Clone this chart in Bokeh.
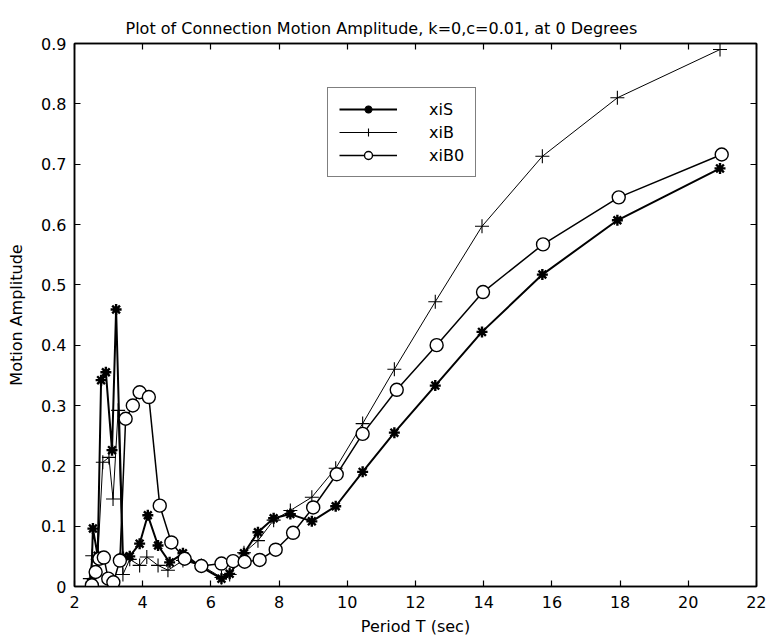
from bokeh.plotting import figure
from bokeh.models import (FixedTicker, LinearAxis, Legend, LegendItem,
                          CustomJSTickFormatter, Range1d)
from bokeh.embed import file_html
from bokeh.resources import INLINE

# ---- data ----
xiS_T = [2.49, 2.54, 2.68, 2.78, 2.92, 3.10, 3.22, 3.42, 3.62, 3.91, 4.15, 4.45,
         4.79, 5.18, 5.72, 6.31, 6.55, 6.97, 7.38, 7.84, 8.33, 8.96, 9.66, 10.45,
         11.38, 12.58, 13.95, 15.72, 17.92, 20.93]
xiS_A = [0.007, 0.096, 0.051, 0.342, 0.355, 0.226, 0.459, 0.049, 0.050, 0.071,
         0.118, 0.068, 0.040, 0.055, 0.032, 0.013, 0.021, 0.055, 0.090, 0.113,
         0.120, 0.108, 0.133, 0.190, 0.255, 0.333, 0.422, 0.517, 0.607, 0.693]

xiB_T = [2.45, 2.52, 2.68, 2.83, 3.01, 3.13, 3.28, 3.42, 3.62, 3.91, 4.12, 4.45,
         4.74, 5.18, 5.72, 6.31, 6.55, 6.97, 7.38, 7.84, 8.33, 8.96, 9.66, 10.45,
         11.38, 12.58, 13.95, 15.72, 17.92, 20.93]
xiB_A = [0.013, 0.051, 0.045, 0.206, 0.214, 0.145, 0.292, 0.020, 0.045, 0.035,
         0.049, 0.035, 0.027, 0.043, 0.035, 0.015, 0.020, 0.056, 0.076, 0.110,
         0.126, 0.148, 0.196, 0.270, 0.360, 0.472, 0.597, 0.713, 0.810, 0.890]

xiB0_T = [2.51, 2.62, 2.73, 2.86, 2.99, 3.14, 3.33, 3.50, 3.71, 3.91, 4.18, 4.50,
          4.84, 5.23, 5.72, 6.31, 6.65, 6.99, 7.43, 7.90, 8.41, 9.00, 9.69, 10.45,
          11.45, 12.62, 13.98, 15.74, 17.96, 20.98]
xiB0_A = [0.002, 0.024, 0.046, 0.048, 0.013, 0.007, 0.043, 0.278, 0.300, 0.322,
          0.314, 0.134, 0.073, 0.046, 0.034, 0.038, 0.042, 0.041, 0.044, 0.061,
          0.089, 0.131, 0.186, 0.253, 0.326, 0.400, 0.488, 0.567, 0.645, 0.716]

x_ticks = [2, 4, 6, 8, 10, 12, 14, 16, 18, 20, 22]
y_ticks = [0, 0.1, 0.2, 0.3, 0.4, 0.5, 0.6, 0.7, 0.8, 0.9]

TITLE = "Plot of Connection Motion Amplitude, k=0,c=0.01, at 0 Degrees"
XLABEL = "Period T (sec)"
YLABEL = "Motion Amplitude"
FONT = "DejaVu Sans"

p = figure(width=766, height=640, output_backend="svg", toolbar_location=None,
           x_range=Range1d(2, 22), y_range=Range1d(0, 0.9),
           min_border_left=74, min_border_right=10, min_border_top=43,
           min_border_bottom=54, background_fill_color="white",
           border_fill_color="white")

p.title.text = TITLE
p.title.text_font = FONT
p.title.text_font_size = "16px"
p.title.text_font_style = "normal"
p.title.text_color = "black"
p.title.align = "left"
p.title.offset = 51
p.title.standoff = 12

p.grid.visible = False
p.outline_line_color = "black"
p.outline_line_width = 1.5

fmt = CustomJSTickFormatter(code="return String(Math.round(tick*10)/10);")

for ax in (p.xaxis[0], p.yaxis[0]):
    ax.major_tick_in = 6
    ax.major_tick_out = 0
    ax.minor_tick_in = 0
    ax.minor_tick_out = 0
    ax.axis_line_width = 1.5
    ax.major_tick_line_width = 1.2
    ax.major_label_text_font = FONT
    ax.major_label_text_font_size = "16px"
    ax.major_label_text_color = "black"
    ax.axis_label_text_font = FONT
    ax.axis_label_text_font_size = "16px"
    ax.axis_label_text_font_style = "normal"
    ax.axis_label_text_color = "black"

p.xaxis.ticker = FixedTicker(ticks=x_ticks)
p.yaxis.ticker = FixedTicker(ticks=y_ticks)
p.yaxis.formatter = fmt
p.xaxis.axis_label = XLABEL
p.yaxis.axis_label = YLABEL
p.xaxis.major_label_standoff = 9
p.yaxis.major_label_standoff = 8
p.xaxis.axis_label_standoff = 6
p.yaxis.axis_label_standoff = 12

# box ticks on top and right: unlabelled (minor) ticks only
top_ax = LinearAxis(ticker=FixedTicker(ticks=[], minor_ticks=x_ticks),
                    major_tick_in=0, major_tick_out=0, minor_tick_in=6, minor_tick_out=0,
                    axis_line_width=1.5, minor_tick_line_width=1.2,
                    minor_tick_line_color="black")
right_ax = LinearAxis(ticker=FixedTicker(ticks=[], minor_ticks=y_ticks),
                      major_tick_in=0, major_tick_out=0, minor_tick_in=6, minor_tick_out=0,
                      axis_line_width=1.5, minor_tick_line_width=1.2,
                      minor_tick_line_color="black")
p.add_layout(top_ax, "above")
p.add_layout(right_ax, "right")

l1 = p.line(xiS_T, xiS_A, line_color="black", line_width=2)
m1 = p.scatter(xiS_T, xiS_A, marker="asterisk", size=11, line_color="black", line_width=2.4)
l2 = p.line(xiB_T, xiB_A, line_color="black", line_width=1)
m2 = p.scatter(xiB_T, xiB_A, marker="cross", size=14, line_color="black", line_width=1.1)
l3 = p.line(xiB0_T, xiB0_A, line_color="black", line_width=1.5)
m3 = p.scatter(xiB0_T, xiB0_A, marker="circle", size=13, line_color="black",
               line_width=1.4, fill_color="white")

legend = Legend(items=[LegendItem(label="xiS", renderers=[l1, m1]),
                       LegendItem(label="xiB", renderers=[l2, m2]),
                       LegendItem(label="xiB0", renderers=[l3, m3])],
                location=(253, 409), margin=0, padding=11, spacing=3,
                glyph_width=58, glyph_height=20, label_height=20,
                label_standoff=32, label_text_font=FONT,
                label_text_font_size="16px", label_text_color="black",
                border_line_color="black",
                border_line_width=1.2, background_fill_color="white",
                background_fill_alpha=1)
p.add_layout(legend)

open("out.html", "w").write(file_html(p, INLINE))
